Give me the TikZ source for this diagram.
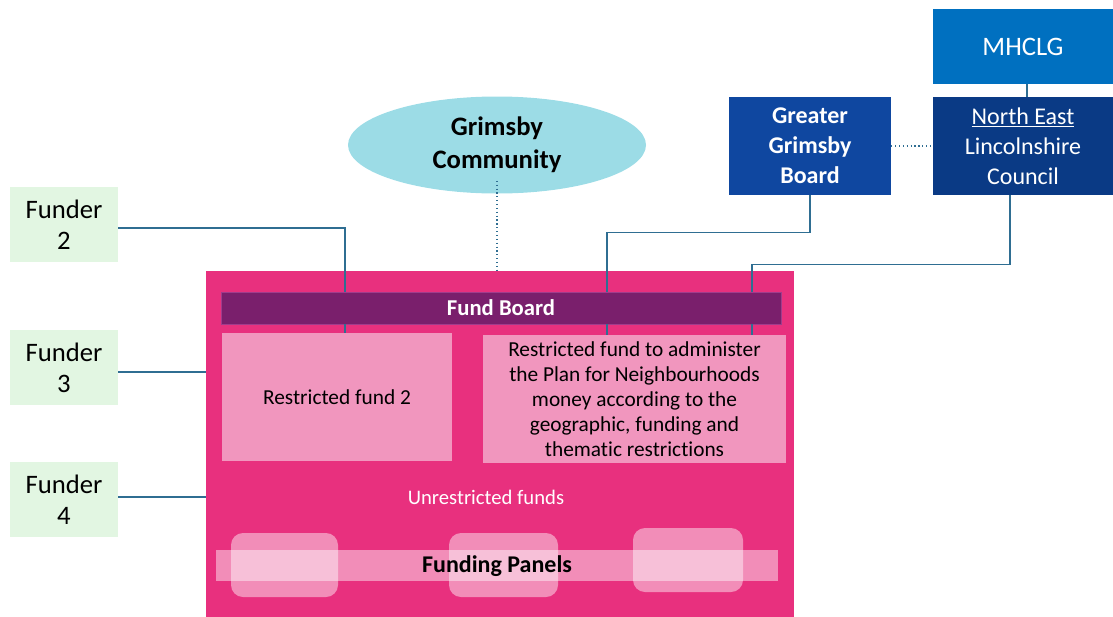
\documentclass[tikz,border=0pt]{standalone}
\usepackage{fontspec}
\setmainfont{Carlito}[Ligatures=NoCommon]
\usetikzlibrary{shapes.geometric,calc}

\definecolor{hubpink}{HTML}{E8307E}
\definecolor{boardpurple}{HTML}{7A1F6C}
\definecolor{fundpink}{HTML}{F196BE}
\definecolor{funderpale}{HTML}{E2F6E2}
\definecolor{commcyan}{HTML}{9CDCE6}
\definecolor{mhblue}{HTML}{0070C0}
\definecolor{ggbblue}{HTML}{0F47A0}
\definecolor{nelcblue}{HTML}{0A3A85}
\definecolor{linkteal}{HTML}{2F6E92}

\begin{document}
\begin{tikzpicture}[x=0.75pt,y=-0.75pt,
  sz/.style 2 args={minimum width=#1*0.75pt, minimum height=#2*0.75pt},
  box/.style={rectangle, inner sep=0pt, align=center},
  funder/.style={box, fill=funderpale, sz={108}{75},
    font=\fontsize{20pt}{23pt}\selectfont},
  govbox/.style={box, text=white, font=\fontsize{18pt}{22.5pt}\selectfont},
  fundbox/.style={box, fill=fundpink, font=\fontsize{16pt}{18.75pt}\selectfont},
  panel/.style={fill=white, fill opacity=0.45, rounded corners=9pt},
  conn/.style={draw=linkteal, line width=1pt},
  dotconn/.style={draw=linkteal, line width=0.9pt, dotted}
]
\useasboundingbox (0,0) rectangle (1113,617);

% government side
\node[govbox, fill=mhblue, sz={180}{75}, font=\fontsize{20pt}{24pt}\selectfont]
  (mh) at (1023,46.5) {MHCLG};
\node[govbox, fill=nelcblue, sz={180}{98}] (nelc) at (1023,146)
  {\underline{North East}\\Lincolnshire\\Council};
\node[govbox, fill=ggbblue, sz={162}{98}, font=\bfseries\fontsize{18pt}{22.5pt}\selectfont]
  (ggb) at (810,146) {Greater\\Grimsby\\Board};

% community
\node[ellipse, fill=commcyan, inner sep=0pt, sz={298}{97}, align=center,
  font=\bfseries\fontsize{20pt}{25pt}\selectfont] (comm) at (497,145)
  {Grimsby\\Community};

% funders
\node[funder] (f2) at (64,224.5) {Funder\\2};
\node[funder] (f3) at (64,367.5) {Funder\\3};
\node[funder] (f4) at (64,499.5) {Funder\\4};

% the fund
\node[box, fill=hubpink, sz={588}{346}] (hub) at (500,444) {};
\node[box, fill=boardpurple, draw={rgb,255:red,160;green,60;blue,140}, line width=0.6pt,
  sz={560}{32}, text=white, font=\bfseries\fontsize{17pt}{20pt}\selectfont]
  (fb) at (501,308) {Fund Board};
\node[fundbox, sz={230}{128}] (rf2) at (337,397) {Restricted fund 2};
\node[fundbox, sz={303}{128}] (rfp) at (634.5,399)
  {Restricted fund to administer\\the Plan for Neighbourhoods\\money according to the\\geographic, funding and\\thematic restrictions};
\node[text=white, font=\fontsize{15.5pt}{18pt}\selectfont] (unr) at (486,497)
  {Unrestricted funds};

% funding panels
\fill[white, fill opacity=0.45] (216,550) rectangle (778,581);
\path[panel] (231,533) rectangle (338,597);
\path[panel] (449,533) rectangle (558,597);
\path[panel] (633,528) rectangle (743,592);
\node[font=\bfseries\fontsize{18pt}{22pt}\selectfont] (fp) at (497,566) {Funding Panels};

% connector columns
\coordinate (k2) at (345,0);
\coordinate (kg) at (607,0);
\coordinate (kn) at (752,0);
\coordinate (kc) at (1010,0);

% connectors
\draw[conn] (f2.east |- 0,228) -| (k2 |- fb.north);
\draw[conn] (k2 |- fb.south) -- (k2 |- rf2.north);
\draw[conn] (ggb.south) -- ++(0,37) -| (kg |- fb.north);
\draw[conn] (kg |- fb.south) -- (kg |- rfp.north);
\draw[conn] (kc |- nelc.south) -- ++(0,69) -| (kn |- fb.north);
\draw[conn] (kn |- fb.south) -- (kn |- rfp.north);
\draw[conn] (f3.east |- 0,372) -- (hub.west |- 0,372);
\draw[conn] (f4.east |- 0,497) -- (hub.west |- 0,497);
\draw[conn] (mh.south -| 1027,0) -- (nelc.north -| 1027,0);
\draw[dotconn] (ggb.east) -- (nelc.west);
\draw[dotconn] ($(comm.south)+(0,-13)$) -- (comm.south |- hub.north);
\end{tikzpicture}
\end{document}
